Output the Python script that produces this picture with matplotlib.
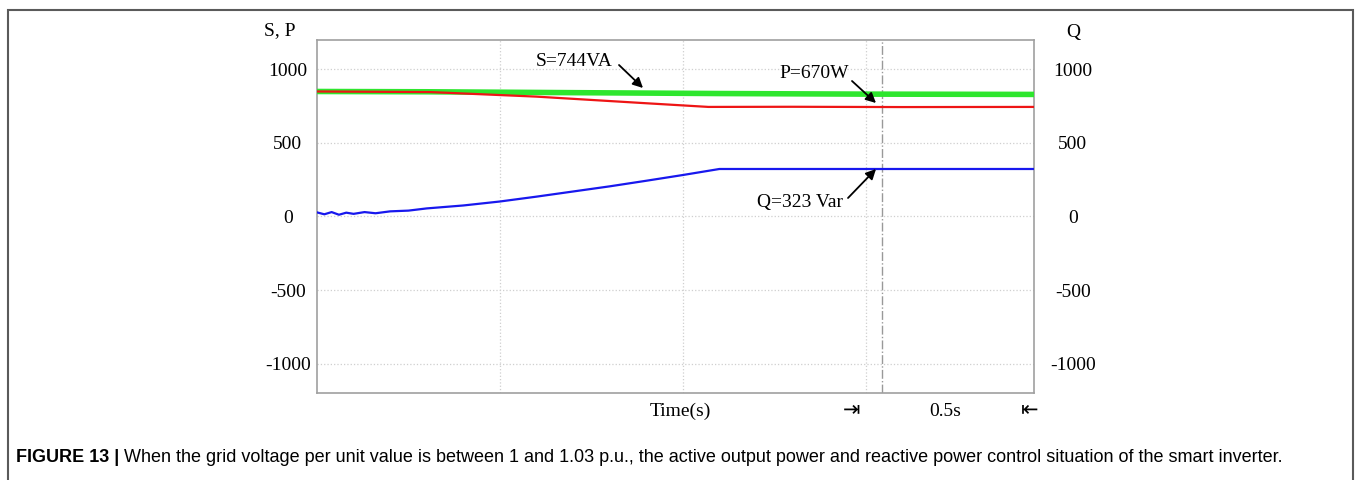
import matplotlib.pyplot as plt
from matplotlib.patches import Rectangle

plt.rcParams['axes.unicode_minus'] = False

# time axis in seconds, readings in VA / W / Var
t_s = [0.0, 0.3, 0.7, 1.1, 1.5, 1.96]
s_vals = [850, 848, 842, 836, 832, 830]

t_p = [0.0, 0.31, 0.6, 0.9, 1.07, 1.3, 1.6, 1.96]
p_vals = [850, 846, 815, 770, 745, 746, 744, 745]

t_q = [0.0, 0.02, 0.04, 0.06, 0.08, 0.1, 0.13, 0.16, 0.2, 0.25, 0.3, 0.4, 0.5,
       0.6, 0.7, 0.8, 0.9, 1.0, 1.1, 1.5, 1.96]
q_vals = [28, 15, 30, 12, 26, 18, 30, 22, 35, 40, 55, 75, 102,
          135, 170, 205, 243, 282, 323, 323, 323]

yticks = [-1000, -500, 0, 500, 1000]
vgrid = [0.5, 1.0, 1.5]
marker_t = 1.545

serif = 'Liberation Serif'
W, H = 1356, 480

fig = plt.figure(figsize=(W / 100, H / 100), dpi=100)
ax = fig.add_axes([317 / W, 1 - 393 / H, 717 / W, 353 / H])

ax.plot(t_s, s_vals, color='#2ee62e', lw=4, solid_capstyle='butt', zorder=3)
ax.plot(t_p, p_vals, color='#ee1515', lw=1.6, zorder=4)
ax.plot(t_q, q_vals, color='#1818ee', lw=1.6, zorder=4)

ax.set_xlim(0, 1.96)
ax.set_ylim(-1200, 1200)
ax.set_yticks(yticks)
ax.set_xticks([])
for y in yticks:
    ax.axhline(y, color='#cfcfcf', lw=0.9, ls=':', zorder=1)
for x in vgrid:
    ax.axvline(x, color='#cfcfcf', lw=0.9, ls=':', zorder=1)
ax.axvline(marker_t, color='#999999', lw=1.0, ls='-.', zorder=2)

for sp in ax.spines.values():
    sp.set_color('#a0a0a0')
    sp.set_linewidth(1.2)

ax.tick_params(axis='y', length=0, pad=21, labelsize=14)
for lab in ax.get_yticklabels():
    lab.set_fontfamily(serif)
    lab.set_horizontalalignment('center')

ax2 = ax.twinx()
ax2.set_ylim(-1200, 1200)
ax2.set_yticks(yticks)
ax2.tick_params(axis='y', length=0, pad=28, labelsize=14)
for lab in ax2.get_yticklabels():
    lab.set_fontfamily(serif)
    lab.set_horizontalalignment('center')
for sp in ax2.spines.values():
    sp.set_visible(False)


def px(x, y):
    # pixel position -> figure fraction
    return x / W, 1 - y / H


arrow = dict(arrowstyle='-|>', color='black', lw=1.3, mutation_scale=15,
             shrinkA=0, shrinkB=0)
labels = [
    ('S=744VA', (574, 62), (619, 65), (643, 88)),
    ('P=670W', (814, 73), (852, 81), (876, 103)),
    ('Q=323 Var', (800, 202), (848, 198), (876, 169)),
]
for text, centre, tail, head in labels:
    fig.text(*px(*centre), text, ha='center', va='center', fontsize=14,
             family=serif)
    ax.annotate('', xy=px(*head), xytext=px(*tail), xycoords='figure fraction',
                textcoords='figure fraction', arrowprops=arrow, zorder=6)

fig.text(*px(280, 31), 'S, P', ha='center', va='center', fontsize=14,
         family=serif)
fig.text(*px(1073, 33), 'Q', ha='center', va='center', fontsize=14,
         family=serif)
fig.text(*px(680, 411), 'Time(s)', ha='center', va='center', fontsize=14,
         family=serif)
fig.text(*px(852, 410), '\u21e5', ha='center', va='center', fontsize=15,
         family='DejaVu Sans')
fig.text(*px(945, 411), '0.5s', ha='center', va='center', fontsize=14,
         family=serif)
fig.text(*px(1030, 410), '\u21e4', ha='center', va='center', fontsize=15,
         family='DejaVu Sans')

# caption: bold lead-in followed by regular text
cap_y = 1 - 457 / H
head = fig.text(16 / W, cap_y, 'FIGURE 13 | ', ha='left', va='center',
                fontsize=13, family='Liberation Sans', weight='bold')
fig.canvas.draw()
bb = head.get_window_extent()
fig.text(bb.x1 / fig.bbox.width, cap_y,
         'When the grid voltage per unit value is between 1 and 1.03 p.u., '
         'the active output power and reactive power control situation of '
         'the smart inverter.',
         ha='left', va='center', fontsize=13, family='Liberation Sans')

fig.patches.append(Rectangle((8 / W, -0.05), 1345 / W, 1.05 - 10 / H,
                             transform=fig.transFigure, fill=False,
                             edgecolor='#5a5a5a', lw=1.5, clip_on=False))

fig.savefig('out.png', dpi=100)
